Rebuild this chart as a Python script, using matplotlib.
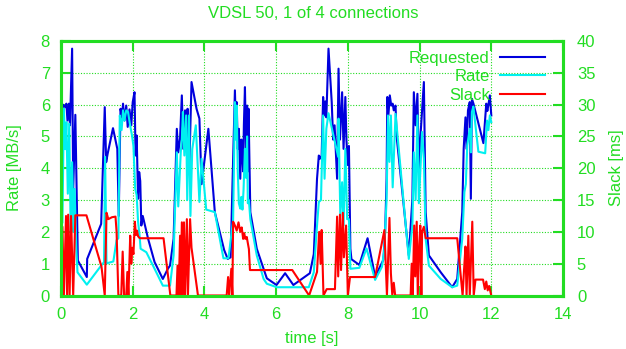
import matplotlib
matplotlib.use("Agg")
import matplotlib.pyplot as plt

# time [s] / requested rate [MB/s]
req_t = [0.03, 0.05, 0.08, 0.12, 0.15, 0.18, 0.22, 0.25, 0.31, 0.34, 0.40, 0.46, 0.47,
         0.72, 0.73, 1.12, 1.22, 1.26, 1.30, 1.45, 1.57, 1.61, 1.66, 1.70, 1.73, 1.77,
         1.82, 1.86, 1.91, 1.96, 2.00, 2.05, 2.08, 2.11, 2.15, 2.18, 2.21, 2.24, 2.28,
         2.43, 2.61, 2.84, 2.98, 3.04, 3.14, 3.23, 3.27, 3.32, 3.37, 3.41, 3.46, 3.50,
         3.53, 3.58, 3.64, 3.78, 3.86, 3.92, 4.11, 4.29, 4.55, 4.65, 4.73, 4.85, 4.88,
         4.90, 4.93, 4.96, 5.00, 5.03, 5.06, 5.08, 5.10, 5.13, 5.16, 5.19, 5.21, 5.23,
         5.28, 5.46, 5.74, 6.01, 6.25, 6.48, 6.94, 7.05, 7.14, 7.19, 7.22, 7.27, 7.31,
         7.34, 7.37, 7.40, 7.46, 7.55, 7.59, 7.63, 7.70, 7.74, 7.78, 7.84, 7.88, 7.93,
         7.96, 8.00, 8.03, 8.07, 8.10, 8.32, 8.55, 8.76, 8.99, 9.04, 9.08, 9.10, 9.13,
         9.17, 9.21, 9.25, 9.28, 9.33, 9.36, 9.70, 9.80, 9.84, 9.89, 9.94, 9.98, 10.02,
         10.07, 10.12, 10.17, 10.26, 10.59, 10.91, 11.05, 11.19, 11.23, 11.28, 11.31,
         11.35, 11.40, 11.43, 11.46, 11.50, 11.78, 11.86, 11.89, 11.92, 11.96, 12.00]
req_v = [4.63, 6.00, 5.97, 5.92, 6.03, 5.50, 6.03, 5.35, 7.76, 3.35, 5.68, 1.78, 1.10,
         0.58, 1.15, 2.25, 5.92, 4.19, 4.45, 5.26, 4.61, 2.50, 5.87, 5.60, 6.03, 5.50,
         5.97, 5.30, 5.85, 5.35, 6.08, 6.39, 4.40, 5.03, 3.04, 3.88, 3.60, 2.20, 2.50,
         1.78, 1.05, 0.52, 0.84, 0.94, 1.78, 5.24, 4.50, 4.93, 6.29, 4.61, 5.82, 4.90,
         5.87, 4.09, 6.71, 5.87, 5.56, 3.50, 5.24, 2.62, 1.43, 1.15, 1.20, 6.45, 5.20,
         6.08, 4.60, 5.24, 3.67, 4.90, 4.40, 3.90, 5.35, 6.55, 4.60, 5.97, 3.90, 5.87,
         2.62, 1.47, 0.54, 0.33, 0.70, 0.33, 0.70, 1.30, 3.67, 4.40, 4.30, 4.40, 6.24,
         5.66, 6.10, 5.60, 7.76, 6.08, 4.90, 5.35, 3.67, 7.13, 4.90, 6.39, 4.61, 6.24,
         4.90, 4.10, 4.70, 1.47, 1.14, 0.96, 1.80, 0.59, 1.12, 2.00, 3.67, 6.24, 5.66,
         6.29, 5.97, 6.03, 5.82, 5.97, 5.00, 1.26, 3.04, 6.39, 5.35, 6.34, 3.88, 4.93,
         5.82, 6.71, 2.62, 1.26, 0.73, 0.26, 0.52, 2.62, 4.61, 5.60, 4.61,
         5.82, 6.08, 3.04, 6.18, 6.04, 4.79, 6.03, 5.80, 6.00, 6.29, 5.66]

# time [s] / achieved rate [MB/s]
rate_t = [0.04, 0.08, 0.12, 0.15, 0.19, 0.23, 0.27, 0.31, 0.35, 0.38, 0.43, 0.46, 0.72,
          1.12, 1.20, 1.23, 1.27, 1.46, 1.55, 1.60, 1.64, 1.69, 1.73, 1.77, 1.82, 1.87,
          1.92, 1.98, 2.02, 2.07, 2.11, 2.15, 2.19, 2.22, 2.38, 2.61, 2.84, 3.04, 3.14,
          3.23, 3.27, 3.34, 3.37, 3.40, 3.44, 3.49, 3.52, 3.57, 3.61, 3.66, 3.76, 3.86,
          3.92, 4.05, 4.29, 4.53, 4.67, 4.80, 4.85, 4.88, 4.90, 4.93, 4.96, 5.00, 5.03,
          5.06, 5.09, 5.13, 5.16, 5.19, 5.21, 5.24, 5.28, 5.46, 5.65, 5.74, 6.02, 6.91,
          7.05, 7.14, 7.19, 7.25, 7.31, 7.35, 7.40, 7.46, 7.73, 7.74, 7.79, 7.84, 7.88,
          7.93, 7.98, 8.03, 8.07, 8.32, 8.52, 8.76, 8.95, 9.01, 9.08, 9.12, 9.16, 9.20,
          9.25, 9.33, 9.70, 9.80, 9.84, 9.89, 9.94, 9.98, 10.07, 10.12, 10.17, 10.26,
          10.59, 10.91, 11.05, 11.19, 11.25, 11.29, 11.33, 11.40, 11.43, 11.46, 11.50,
          11.64, 11.83, 11.88, 11.92, 11.96, 12.00]
rate_v = [2.30, 5.87, 4.60, 5.45, 3.20, 5.40, 2.00, 4.19, 2.00, 3.35, 1.40, 0.73, 0.34,
          0.94, 1.05, 4.36, 1.01, 1.07, 1.74, 1.80, 5.66, 5.20, 5.82, 5.50, 5.82, 5.77,
          5.40, 5.03, 4.70, 3.35, 3.15, 2.31, 1.90, 1.47, 1.36, 0.84, 0.31, 0.31, 1.26,
          4.50, 2.80, 4.50, 4.90, 5.77, 4.40, 5.66, 3.00, 5.66, 2.50, 4.60, 5.35, 2.94,
          4.30, 2.70, 2.62, 1.17, 1.17, 2.37, 6.08, 4.90, 5.97, 3.90, 2.90, 2.73, 3.10,
          2.70, 3.30, 4.61, 3.70, 5.00, 2.90, 3.00, 2.40, 1.26, 0.52, 0.37, 0.26, 0.26,
          0.73, 2.20, 2.94, 3.00, 5.66, 3.67, 5.24, 5.73, 4.36, 5.56, 2.50, 3.56, 2.20,
          4.61, 2.40, 2.40, 0.84, 0.87, 1.48, 0.49, 0.90, 1.36, 3.00, 5.66, 4.20, 5.66,
          3.40, 5.71, 1.15, 2.20, 4.50, 3.00, 5.66, 2.90, 5.14, 4.30, 1.78, 0.94,
          0.52, 0.26, 0.31, 1.78, 3.25, 3.50, 4.72, 5.24, 4.50, 5.77, 5.94,
          4.52, 4.47, 5.50, 5.20, 5.66, 5.45]

# time [s] / slack [ms]
slack_t = [0.00, 0.04, 0.08, 0.14, 0.17, 0.20, 0.24, 0.28, 0.34, 0.40, 0.71, 1.13, 1.22,
           1.27, 1.32, 1.42, 1.52, 1.55, 1.60, 1.68, 1.72, 1.76, 1.82, 1.85, 1.88, 1.93,
           1.96, 1.99, 2.02, 2.06, 2.09, 2.12, 2.15, 2.20, 2.86, 3.05, 3.22, 3.25, 3.28,
           3.32, 3.34, 3.37, 3.40, 3.43, 3.46, 3.51, 3.54, 3.60, 3.64, 3.82, 4.62, 4.66,
           4.69, 4.75, 4.78, 4.80, 4.85, 4.90, 4.95, 5.00, 5.04, 5.08, 5.11, 5.14, 5.18,
           5.24, 5.27, 6.45, 6.92, 7.14, 7.20, 7.24, 7.27, 7.32, 7.41, 7.64, 7.70, 7.73,
           7.78, 7.81, 7.86, 7.89, 7.95, 8.00, 8.06, 8.76, 9.02, 9.09, 9.16, 9.20, 9.24,
           9.28, 9.32, 9.75, 9.78, 9.81, 9.85, 9.88, 9.92, 9.95, 9.99, 10.02, 10.05, 10.07,
           10.12, 10.17, 10.24, 11.05, 11.15, 11.20, 11.24, 11.28, 11.31, 11.36, 11.40,
           11.47, 11.51, 11.56, 11.77, 11.82, 11.86, 11.90, 11.94, 12.00]
slack_ms = [0.0, 10.8, 0.0, 12.5, 0.0, 12.7, 0.0, 12.5, 0.0, 12.6, 12.6, 4.5, 0.0,
            13.0, 12.0, 12.3, 12.4, 10.0, 0.0, 0.0, 6.9, 0.0, 0.0, 3.7, 0.0, 9.4,
            5.0, 7.5, 6.5, 11.6, 9.5, 10.2, 9.3, 9.0, 9.0, 0.0, 0.0, 4.7, 0.0,
            9.4, 0.0, 11.5, 0.0, 11.5, 0.0, 12.0, 0.0, 12.0, 7.5, 0.0, 0.0, 2.9,
            0.0, 4.2, 0.0, 11.6, 11.0, 10.2, 11.5, 10.0, 10.7, 8.9, 9.8, 8.9, 9.2,
            7.3, 4.0, 4.0, 0.0, 3.7, 10.0, 5.0, 10.3, 0.0, 1.0, 1.0, 12.4, 3.0,
            12.7, 4.0, 13.0, 6.0, 11.0, 0.0, 2.9, 2.9, 10.3, 0.0, 12.2, 3.5, 0.0,
            2.0, 0.0, 0.0, 5.0, 0.0, 11.0, 3.0, 11.6, 0.0, 8.0, 11.0, 0.0, 10.0,
            10.8, 9.0, 9.0, 9.0, 3.0, 0.0, 4.0, 7.7, 0.0, 9.4, 0.0,
            11.6, 0.0, 2.5, 2.5, 1.0, 2.2, 0.8, 1.5, 0.0]

GREEN = "#22dd22"
FS = 12
plt.rcParams["font.family"] = ["Liberation Sans", "DejaVu Sans"]
plt.rcParams["font.size"] = FS

fig = plt.figure(figsize=(6.26, 3.49), dpi=100)
ax = fig.add_axes([61 / 626, 1 - 295.5 / 349, 502 / 626, 254.5 / 349])
ax2 = ax.twinx()

# slack drawn last (on top), as in the original
l1, = ax.plot(req_t, req_v, color="#0000dd", lw=1.5, label="Requested")
l2, = ax.plot(rate_t, rate_v, color="#00f0f0", lw=1.5, label="Rate")
l3, = ax2.plot(slack_t, slack_ms, color="#ff0000", lw=1.5, label="Slack")

ax.set_xlim(0, 14)
ax.set_ylim(0, 8)
ax2.set_ylim(0, 40)
ax.set_xticks(range(0, 15, 2))
ax.set_yticks(range(0, 9))
ax2.set_yticks(range(0, 41, 5))

ax.grid(True, color=GREEN, ls=(0, (1, 1.5)), lw=0.8)
for a in (ax, ax2):
    for s in a.spines.values():
        s.set_color(GREEN)
        s.set_linewidth(2.2)
ax.tick_params(axis="both", direction="in", length=7, width=1.5, colors=GREEN,
               labelcolor=GREEN, pad=8, top=True, labelsize=FS)
ax.tick_params(axis="y", right=False)
ax2.tick_params(axis="y", direction="in", length=7, width=1.5, colors=GREEN,
                labelcolor=GREEN, pad=10, labelsize=FS)

fig.text(313 / 626, 1 - 14 / 349, "VDSL 50, 1 of 4 connections", color=GREEN,
         ha="center", va="center", fontsize=FS)
fig.text(312 / 626, 1 - 339 / 349, "time [s]", color=GREEN, ha="center",
         va="center", fontsize=FS)
fig.text(15 / 626, 1 - 168 / 349, "Rate [MB/s]", color=GREEN, ha="center",
         va="center", rotation=90, fontsize=FS)
fig.text(617 / 626, 1 - 168 / 349, "Slack [ms]", color=GREEN, ha="center",
         va="center", rotation=90, fontsize=FS)

leg = ax2.legend(handles=[l1, l2, l3], loc="upper right", frameon=False,
                 bbox_to_anchor=(0.977, 0.987), borderaxespad=0,
                 markerfirst=False, handlelength=2.7, handletextpad=0.6,
                 labelspacing=0.2, fontsize=FS)
for txt in leg.get_texts():
    txt.set_color(GREEN)

fig.savefig("out.png", dpi=100)
